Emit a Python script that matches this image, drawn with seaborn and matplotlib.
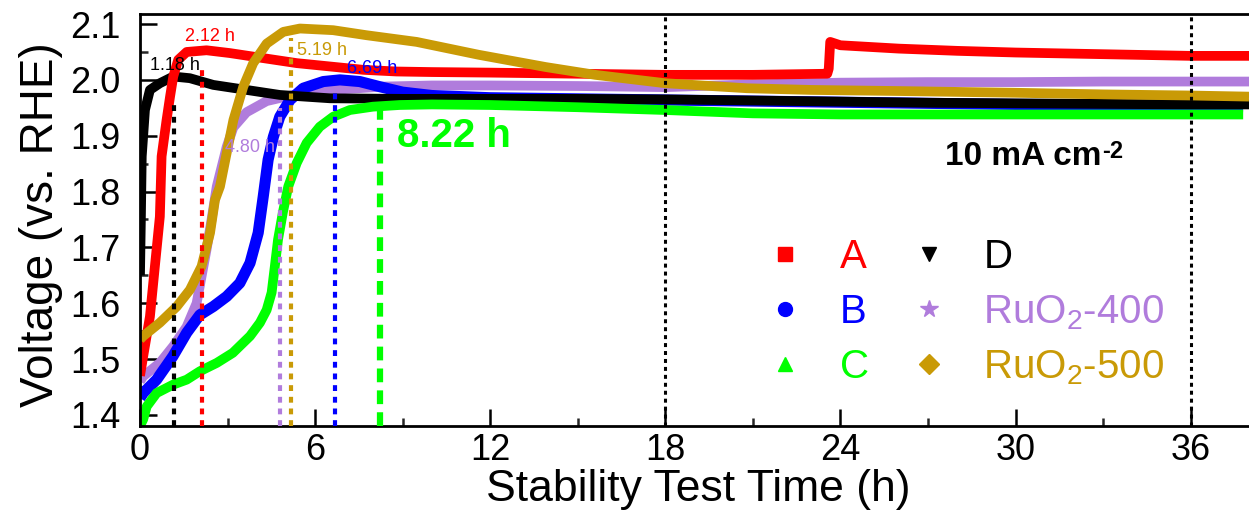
import numpy as np
import pandas as pd
import matplotlib
matplotlib.use("Agg")
import matplotlib.pyplot as plt
from matplotlib.lines import Line2D
from matplotlib.ticker import MultipleLocator
import seaborn as sns

# ---------------- data ----------------
A_t = [0, 0.11, 0.34, 0.51, 0.68, 0.74, 0.91, 1.03, 1.14, 1.31, 1.6, 2.28, 3.08, 4.22, 5.37,
       6.51, 7.65, 8.79, 10, 12, 15, 18, 21, 23.55, 23.6, 23.65, 24, 26, 28, 30, 33, 36, 38]
A_v = [1.47, 1.505, 1.576, 1.666, 1.755, 1.863, 1.928, 1.97, 2.006, 2.036, 2.05, 2.053, 2.048,
       2.039, 2.03, 2.024, 2.018, 2.015, 2.014, 2.013, 2.011, 2.009, 2.009, 2.011, 2.02, 2.068,
       2.062, 2.056, 2.052, 2.049, 2.046, 2.043, 2.043]

B_t = [0, 0.11, 0.57, 1.13, 1.6, 2.05, 2.51, 2.97, 3.42, 3.77, 4.05, 4.22, 4.39, 4.57, 4.79,
       5.14, 5.59, 6.28, 6.85, 7.53, 8.2, 9, 10, 12, 15, 18, 21, 24, 27, 30, 33, 36, 37.8]
B_v = [1.43, 1.439, 1.463, 1.505, 1.547, 1.579, 1.594, 1.612, 1.636, 1.672, 1.726, 1.79, 1.857,
       1.898, 1.934, 1.964, 1.985, 1.997, 2.0, 1.997, 1.988, 1.978, 1.972, 1.968, 1.966, 1.964,
       1.962, 1.96, 1.958, 1.956, 1.955, 1.954, 1.952]

C_t = [0, 0.11, 0.23, 0.57, 1.13, 1.6, 2.05, 2.63, 3.18, 3.77, 4.11, 4.34, 4.51, 4.62, 4.73,
       4.9, 5.08, 5.37, 5.71, 6.16, 6.62, 7.19, 7.98, 8.9, 10, 12, 15, 18, 21, 24, 27, 30, 33,
       36, 37.8]
C_v = [1.38, 1.392, 1.415, 1.439, 1.454, 1.463, 1.478, 1.493, 1.511, 1.541, 1.565, 1.588, 1.619,
       1.666, 1.714, 1.764, 1.809, 1.851, 1.887, 1.916, 1.934, 1.946, 1.952, 1.955, 1.956,
       1.955, 1.951, 1.946, 1.940, 1.938, 1.938, 1.938, 1.938, 1.938, 1.938]

D_t = [0, 0.03, 0.06, 0.17, 0.34, 0.68, 1.14, 1.71, 2.51, 3.65, 4.79, 6.51, 9, 12, 15, 18,
       21, 24, 27, 30, 33, 36, 38]
D_v = [1.65, 1.75, 1.863, 1.946, 1.982, 1.994, 2.006, 2.003, 1.991, 1.982, 1.973, 1.967, 1.966,
       1.966, 1.966, 1.965, 1.963, 1.961, 1.959, 1.958, 1.957, 1.956, 1.956]

R4_t = [0, 0.11, 0.68, 1.14, 1.6, 1.94, 2.11, 2.28, 2.45, 2.63, 2.97, 3.2, 3.65, 4.34, 5.25,
        6.62, 8.33, 10, 12, 15, 18, 21, 24, 27, 30, 33, 36, 38]
R4_v = [1.46, 1.469, 1.493, 1.523, 1.558, 1.60, 1.648, 1.696, 1.749, 1.809, 1.88, 1.915, 1.942,
        1.962, 1.973, 1.982, 1.988, 1.99, 1.99, 1.989, 1.987, 1.992, 1.995, 1.996, 1.996,
        1.997, 1.997, 1.997]

R5_t = [0, 0.11, 0.68, 1.26, 1.71, 2.11, 2.4, 2.57, 2.74, 2.97, 3.2, 3.54, 3.88, 4.34, 4.91,
        5.48, 6.62, 7.76, 9.48, 11.6, 13.9, 15.6, 18, 20.8, 23, 26, 29.9, 33, 36, 38]
R5_v = [1.535, 1.541, 1.565, 1.594, 1.624, 1.666, 1.726, 1.785, 1.809, 1.869, 1.928, 1.988,
        2.03, 2.065, 2.086, 2.092, 2.089, 2.08, 2.068, 2.045, 2.023, 2.009, 1.994, 1.985,
        1.982, 1.98, 1.977, 1.974, 1.972, 1.970]

series_names = ["A", "B", "C", "D", "RuO2-400", "RuO2-500"]
legend_labels = ["A", "B", "C", "D", "RuO$_2$-400", "RuO$_2$-500"]
series_colors = ["#FF0000", "#0000FF", "#00FF00", "#000000", "#B07CDC", "#C99A06"]
series_markers = ["s", "o", "^", "v", "*", "D"]

# time markers (h) with the curve value where each dotted line ends
mark_times = [1.18, 2.12, 4.80, 5.19, 6.69, 8.22]
mark_tops = [1.96, 2.025, 1.95, 2.075, 1.985, 1.95]
mark_series = ["D", "A", "RuO2-400", "RuO2-500", "B", "C"]
mark_labels = ["1.18 h", "2.12 h", "4.80 h", "5.19 h", "6.69 h", "8.22 h"]
mark_label_xy = [(0.34, 2.025), (1.54, 2.077), (2.9, 1.878), (5.38, 2.053),
                 (7.09, 2.021), (8.8, 1.90)]
ref_times = [18, 36]

x_ticks = [0, 6, 12, 18, 24, 30, 36]
y_ticks = [1.4, 1.5, 1.6, 1.7, 1.8, 1.9, 2.0, 2.1]

# ---------------- build data frame ----------------
frames = []
for name, t, v in zip(series_names, [A_t, B_t, C_t, D_t, R4_t, R5_t],
                      [A_v, B_v, C_v, D_v, R4_v, R5_v]):
    frames.append(pd.DataFrame({"t": t, "v": v, "series": name}))
df = pd.concat(frames, ignore_index=True)
palette = dict(zip(series_names, series_colors))

# ---------------- style ----------------
sns.set_theme(style="ticks")
plt.rcParams["font.family"] = ["Liberation Sans", "DejaVu Sans"]
plt.rcParams["mathtext.fontset"] = "custom"
plt.rcParams["mathtext.rm"] = "Liberation Sans"
plt.rcParams["mathtext.it"] = "Liberation Sans:italic"
plt.rcParams["mathtext.bf"] = "Liberation Sans:bold"

fig = plt.figure(figsize=(12.49, 5.16), dpi=100)
ax = fig.add_axes([140 / 1249, 1 - 426 / 516, 1 - 140 / 1249, 412 / 516])

draw_order = ["RuO2-400", "B", "D", "C", "A", "RuO2-500"]
for name in draw_order:
    sub = df[df["series"] == name]
    sns.lineplot(data=sub, x="t", y="v", color=palette[name], sort=False,
                 estimator=None, lw=8 if name == "B" else 7, ax=ax, legend=False,
                 solid_capstyle="butt", solid_joinstyle="round", zorder=2)

ax.set_xlim(0, 38)
ax.set_ylim(1.38, 2.118)

# dotted markers
for t, top, s in zip(mark_times, mark_tops, mark_series):
    if s == "C":
        ax.vlines(t, 1.38, top, colors=palette[s], lw=4.5,
                  linestyles=(0, (2.2, 1.3)), zorder=4)
    else:
        ax.vlines(t, 1.38, top, colors=palette[s], lw=3,
                  linestyles=(0, (1.4, 1.4)), zorder=4)
for t in ref_times:
    ax.axvline(t, color="black", lw=2.2, linestyle=(0, (1.3, 1.3)), zorder=4)

for lab, (x, y), s in zip(mark_labels, mark_label_xy, mark_series):
    if s == "C":
        ax.text(x, y, lab, color=palette[s], fontsize=29, fontweight="bold",
                ha="left", va="center", zorder=5)
    else:
        ax.text(x, y, lab, color=palette[s], fontsize=13, ha="left",
                va="center", zorder=5)

cur = ax.text(27.57, 1.862, "10 mA cm", fontsize=24, fontweight="bold",
              color="black", ha="left", va="center")
ax.annotate("-2", xy=(1, 1), xycoords=cur, xytext=(1, 1), textcoords="offset points",
            fontsize=17, fontweight="bold", color="black", ha="left", va="top")

# axes styling
ax.set_xticks(x_ticks)
ax.set_yticks(y_ticks)
ax.set_yticklabels([f"{v:.1f}" for v in y_ticks])
ax.xaxis.set_minor_locator(MultipleLocator(3))
ax.yaxis.set_minor_locator(MultipleLocator(0.05))
ax.tick_params(which="major", direction="in", length=12, width=1.8, labelsize=26,
               colors="black")
ax.tick_params(which="minor", direction="in", length=6, width=1.8)
ax.tick_params(axis="y", which="major", pad=14)
ax.tick_params(axis="x", which="major", pad=5)
for side in ["left", "bottom", "top"]:
    ax.spines[side].set_linewidth(2)
    ax.spines[side].set_color("black")
ax.spines["right"].set_visible(False)

ax.set_xlabel("Stability Test Time (h)", fontsize=32, color="black")
ax.set_ylabel("Voltage (vs. RHE)", fontsize=33, color="black")
ax.xaxis.set_label_coords(0.503, -0.105)
ax.yaxis.set_label_coords(-0.069, 0.488)

# legend
handles = [Line2D([], [], ls="none", marker=m, color=c, markersize=13 if m == "*" else 10)
           for m, c in zip(series_markers, series_colors)]
leg = ax.legend(handles, legend_labels, ncol=2, frameon=False, fontsize=29,
                handlelength=1.0, handletextpad=0.85, columnspacing=1.0,
                labelspacing=0.42, borderpad=0, borderaxespad=0,
                loc="upper left", bbox_to_anchor=(765 / 1249, 1 - 238 / 516),
                bbox_transform=fig.transFigure)
for txt, c in zip(leg.get_texts(), series_colors):
    txt.set_color(c)

fig.savefig("out.png", dpi=100)
